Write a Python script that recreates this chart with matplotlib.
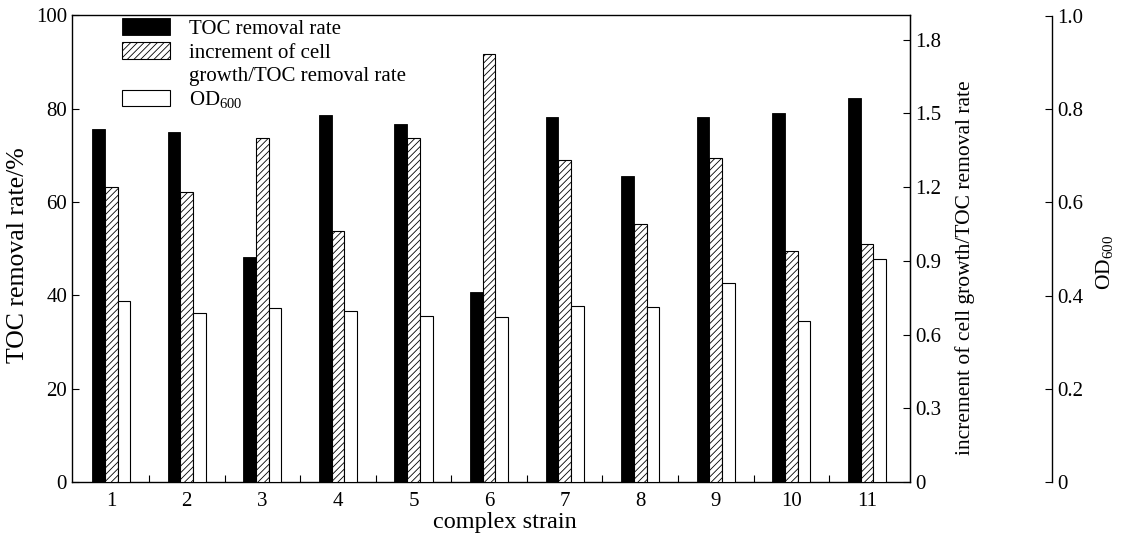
import matplotlib
matplotlib.use("Agg")
import matplotlib.pyplot as plt
from matplotlib.patches import Patch
import numpy as np

# datos
strains = ['1', '2', '3', '4', '5', '6', '7', '8', '9', '10', '11']
toc = [75.7, 74.9, 48.2, 78.7, 76.6, 40.8, 78.2, 65.6, 78.2, 79.1, 82.2]
inc = [1.20, 1.18, 1.40, 1.02, 1.40, 1.74, 1.31, 1.05, 1.32, 0.94, 0.97]
od = [0.388, 0.363, 0.374, 0.367, 0.357, 0.354, 0.378, 0.376, 0.427, 0.345, 0.479]

plt.rcParams['font.family'] = ['Liberation Serif', 'DejaVu Serif']
plt.rcParams['font.size'] = 15
plt.rcParams['hatch.linewidth'] = 0.6
plt.rcParams['mathtext.fontset'] = 'custom'
plt.rcParams['mathtext.rm'] = 'Liberation Serif'

x = np.arange(1, len(strains) + 1)
w = 0.168

fig = plt.figure(figsize=(11.24, 5.41), dpi=100)
ax = fig.add_axes([0.064, 0.109, 0.7456, 0.863])
ax2 = ax.twinx()
ax3 = ax.twinx()

b1 = ax.bar(x - w, toc, w, color='black', edgecolor='black', linewidth=0.6)
b2 = ax2.bar(x, inc, w, color='white', edgecolor='black', hatch='/////', linewidth=0.8)
b3 = ax3.bar(x + w, od, w, color='white', edgecolor='black', linewidth=0.8)

ax.set_xlim(0.48, 11.57)
ax.set_ylim(0, 100)
ax.set_yticks([0, 20, 40, 60, 80, 100])
ax2.set_ylim(0, 1.9)
ax2.set_yticks([0, 0.3, 0.6, 0.9, 1.2, 1.5, 1.8])
ax2.set_yticklabels(['0', '0.3', '0.6', '0.9', '1.2', '1.5', '1.8'])
ax3.set_ylim(0, 1.0 * 468 / 467)
ax3.set_yticks([0, 0.2, 0.4, 0.6, 0.8, 1.0])
ax3.set_yticklabels(['0', '0.2', '0.4', '0.6', '0.8', '1.0'])

ax.set_xticks(x)
ax.set_xticklabels(strains)
ax.set_xticks(np.arange(1.5, 11.5, 1), minor=True)
ax.tick_params(axis='x', which='major', length=0, pad=7)
ax.tick_params(axis='x', which='minor', direction='in', length=5, width=0.8)
ax.tick_params(axis='y', direction='in', length=5, width=0.8)
ax2.tick_params(axis='y', direction='in', length=5, width=0.8)
ax3.tick_params(axis='y', direction='in', length=5, width=0.8)

for s in ax.spines.values():
    s.set_linewidth(1.0)
for s in ['top', 'bottom', 'left']:
    ax3.spines[s].set_visible(False)
    ax2.spines[s].set_visible(False)
ax3.spines['right'].set_position(('axes', 1.1695))
ax3.spines['right'].set_bounds(0, 1.0)
ax3.spines['right'].set_linewidth(1.0)

ax.set_xlabel('complex strain', fontsize=17.5)
ax.set_ylabel('TOC removal rate/%', fontsize=18.5)
ax2.set_ylabel('increment of cell growth/TOC removal rate', fontsize=15.5)
ax3.set_ylabel('OD$_{600}$', fontsize=15.5)

# posiciones de los titulos de ejes (centro del texto)
ax.xaxis.set_label_coords(0.517, -0.086)
ax.yaxis.set_label_coords(-0.064, 0.486)
ax2.yaxis.set_label_coords(1.0656, 0.46)
ax3.yaxis.set_label_coords(1.2327, 0.47)
for lab in [ax.xaxis.label, ax.yaxis.label, ax2.yaxis.label, ax3.yaxis.label]:
    lab.set_verticalalignment('center')
    lab.set_horizontalalignment('center')

# la segunda etiqueta ocupa dos lineas, el cuadro va en la primera
blank = Patch(facecolor='none', edgecolor='none')
leg = ax.legend([b1, b2, blank, b3],
                ['TOC removal rate', 'increment of cell', 'growth/TOC removal rate', 'OD$_{600}$'],
                loc='upper left', bbox_to_anchor=(0.06, 0.993), frameon=False,
                handlelength=2.3, handleheight=0.85, handletextpad=0.9,
                labelspacing=0.15, borderpad=0, borderaxespad=0)

fig.savefig('out.png', dpi=100)
